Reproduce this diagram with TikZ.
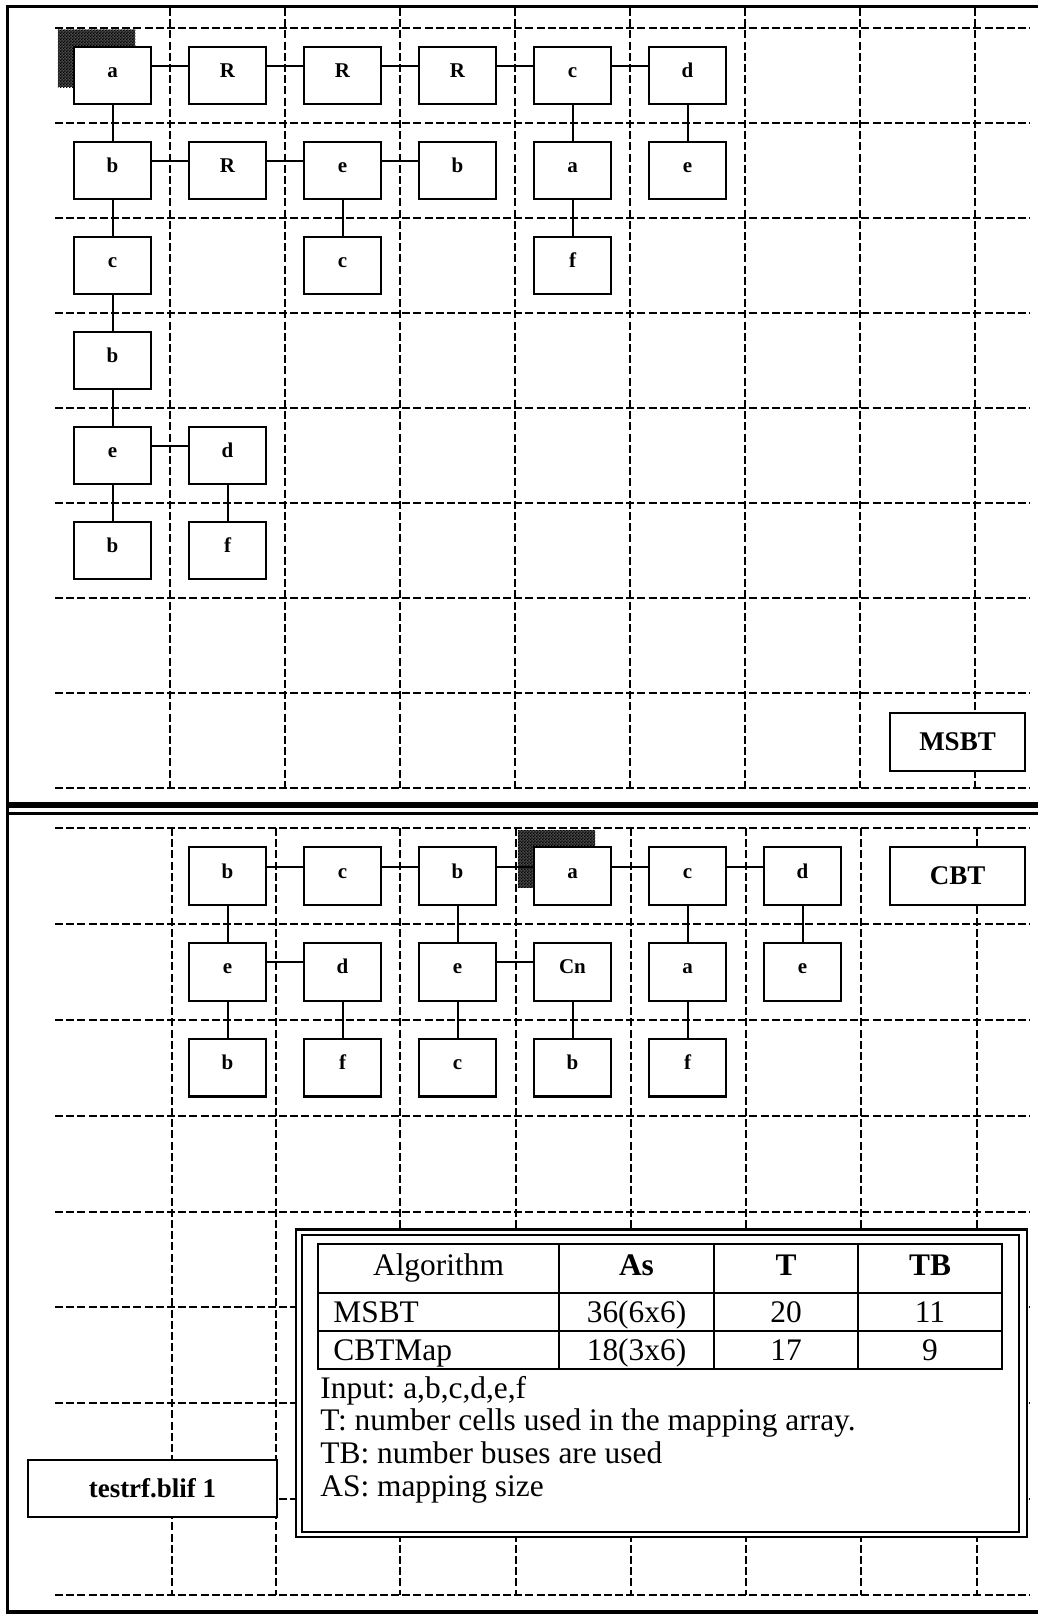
\documentclass[tikz,border=0pt]{standalone}
\usepackage{fontspec}
\setmainfont{Liberation Serif}
\usetikzlibrary{patterns}
\pgfdeclarepatternformonly{finecheck}{\pgfqpoint{0pt}{0pt}}{\pgfqpoint{1.6pt}{1.6pt}}{\pgfqpoint{1.6pt}{1.6pt}}{%
  \pgfpathrectangle{\pgfqpoint{0pt}{0pt}}{\pgfqpoint{0.8pt}{0.8pt}}%
  \pgfpathrectangle{\pgfqpoint{0.8pt}{0.8pt}}{\pgfqpoint{0.8pt}{0.8pt}}%
  \pgfusepath{fill}%
}
\newcommand\hconn[2]{\draw[conn] ([yshift=4.75pt]#1.east) -- ([yshift=4.75pt]#2.west);}
\newcommand\vconn[2]{\draw[conn] (#1.south) -- (#2.north);}
\frenchspacing
\begin{document}
\begin{tikzpicture}[x=0.5pt,y=-0.5pt,
  gridline/.style={line width=1.25pt, dash pattern=on 4pt off 1.6pt},
  cell/.style={draw, line width=1.15pt, fill=white, minimum width=38.75pt, minimum height=28.75pt,
    inner sep=0pt, outer sep=0pt, font=\fontsize{10.5}{12}\selectfont\bfseries, text height=2pt, text depth=0pt},
  conn/.style={line width=1pt},
  labelbox/.style={draw, line width=1.15pt, fill=white, inner sep=0pt, font=\fontsize{13.5}{15}\selectfont\bfseries},
  shadowfill/.style={fill=black!70, postaction={pattern=finecheck}},
  tabtext/.style={font=\fontsize{15.7}{18}\selectfont\frenchspacing, inner sep=0pt, anchor=base},
  tabline/.style={line width=1.15pt},
]
\useasboundingbox (0,0) rectangle (1038,1620);
\fill[white] (0,0) rectangle (1038,1620);

% ---------- top grid ----------
\foreach \x in {170,285,...,975} \draw[gridline] (\x,8) -- (\x,788);
\foreach \y in {28,123,...,788} \draw[gridline] (55,\y) -- (1030,\y);

% ---------- bottom grid ----------
\foreach \x in {172,276,400,516,631,746,861,977} \draw[gridline] (\x,828) -- (\x,1595);
\foreach \y in {828,924,1020,1116,1212,1307,1403,1499,1595} \draw[gridline] (55,\y) -- (1030,\y);

% ---------- borders ----------
\draw[line width=1.6pt] (1038,6.5) -- (7.5,6.5) -- (7.5,1612) -- (1038,1612);
\draw[line width=3pt] (7.5,805) -- (1038,805);
\draw[line width=1.25pt] (7.5,813.5) -- (1038,813.5);

% ---------- shadows ----------
\path[shadowfill] (57.75,29.75) rectangle (135.25,87.25);
\path[shadowfill] (517.75,830.25) rectangle (595.25,887.75);

% ---------- top section cells ----------
\node[cell] (t00) at (112.5,75.5) {a};
\node[cell] (t01) at (227.5,75.5) {R};
\node[cell] (t02) at (342.5,75.5) {R};
\node[cell] (t03) at (457.5,75.5) {R};
\node[cell] (t04) at (572.5,75.5) {c};
\node[cell] (t05) at (687.5,75.5) {d};
\node[cell] (t10) at (112.5,170.5) {b};
\node[cell] (t11) at (227.5,170.5) {R};
\node[cell] (t12) at (342.5,170.5) {e};
\node[cell] (t13) at (457.5,170.5) {b};
\node[cell] (t14) at (572.5,170.5) {a};
\node[cell] (t15) at (687.5,170.5) {e};
\node[cell] (t20) at (112.5,265.5) {c};
\node[cell] (t22) at (342.5,265.5) {c};
\node[cell] (t24) at (572.5,265.5) {f};
\node[cell] (t30) at (112.5,360.5) {b};
\node[cell] (t40) at (112.5,455.5) {e};
\node[cell] (t41) at (227.5,455.5) {d};
\node[cell] (t50) at (112.5,550.5) {b};
\node[cell] (t51) at (227.5,550.5) {f};

\hconn{t00}{t01} \hconn{t01}{t02} \hconn{t02}{t03} \hconn{t03}{t04} \hconn{t04}{t05}
\vconn{t00}{t10} \vconn{t04}{t14} \vconn{t05}{t15}
\hconn{t10}{t11} \hconn{t11}{t12} \hconn{t12}{t13}
\vconn{t10}{t20} \vconn{t12}{t22} \vconn{t14}{t24}
\vconn{t20}{t30} \vconn{t30}{t40} \vconn{t40}{t50}
\hconn{t40}{t41} \vconn{t41}{t51}

% ---------- bottom section cells ----------
\node[cell] (b01) at (227.5,876) {b};
\node[cell] (b02) at (342.5,876) {c};
\node[cell] (b03) at (457.5,876) {b};
\node[cell] (b04) at (572.5,876) {a};
\node[cell] (b05) at (687.5,876) {c};
\node[cell] (b06) at (802.5,876) {d};
\node[cell] (b11) at (227.5,971.9) {e};
\node[cell] (b12) at (342.5,971.9) {d};
\node[cell] (b13) at (457.5,971.9) {e};
\node[cell] (b14) at (572.5,971.9) {Cn};
\node[cell] (b15) at (687.5,971.9) {a};
\node[cell] (b16) at (802.5,971.9) {e};
\node[cell] (b21) at (227.5,1067.75) {b};
\node[cell] (b22) at (342.5,1067.75) {f};
\node[cell] (b23) at (457.5,1067.75) {c};
\node[cell] (b24) at (572.5,1067.75) {b};
\node[cell] (b25) at (687.5,1067.75) {f};

\hconn{b01}{b02} \hconn{b02}{b03} \hconn{b03}{b04} \hconn{b04}{b05} \hconn{b05}{b06}
\vconn{b01}{b11} \vconn{b03}{b13} \vconn{b05}{b15} \vconn{b06}{b16}
\hconn{b11}{b12} \hconn{b13}{b14}
\vconn{b11}{b21} \vconn{b12}{b22} \vconn{b13}{b23} \vconn{b14}{b24} \vconn{b15}{b25}

% ---------- labels ----------
\node[labelbox, minimum width=67.5pt, minimum height=29pt] (msbt) at (957.5,742) {MSBT};
\node[labelbox, minimum width=67.5pt, minimum height=29pt] (cbt) at (957.5,876) {CBT};
\node[labelbox, minimum width=124.5pt, minimum height=28.5pt] (testrf) at (152.5,1488.5) {testrf.blif 1};

% ---------- table ----------
\draw[tabline, fill=white] (296,1229.5) rectangle (1027,1537);
\draw[tabline] (302,1235) rectangle (1019,1532);
\draw[tabline] (318,1244) rectangle (1002,1369);
\draw[tabline] (318,1293) -- (1002,1293) (318,1331) -- (1002,1331);
\foreach \x in {559,714,858} \draw[tabline] (\x,1244) -- (\x,1369);

\node[tabtext] (h1) at (438.5,1275) {Algorithm};
\node[tabtext] (h2) at (636.5,1275) {\bfseries As};
\node[tabtext] (h3) at (786,1275) {\bfseries T};
\node[tabtext] (h4) at (930,1275) {\bfseries TB};
\node[tabtext, anchor=base west] (m1) at (333,1322) {MSBT};
\node[tabtext] (m2) at (636.5,1322) {36(6x6)};
\node[tabtext] (m3) at (786,1322) {20};
\node[tabtext] (m4) at (930,1322) {11};
\node[tabtext, anchor=base west] (c1) at (333,1360.5) {CBTMap};
\node[tabtext] (c2) at (636.5,1360.5) {18(3x6)};
\node[tabtext] (c3) at (786,1360.5) {17};
\node[tabtext] (c4) at (930,1360.5) {9};
\node[tabtext, anchor=base west] (n1) at (320,1398) {Input: a,b,c,d,e,f};
\node[tabtext, anchor=base west] (n2) at (320,1430.5) {T: number cells used in the mapping array.};
\node[tabtext, anchor=base west] (n3) at (320,1463) {TB: number buses are used};
\node[tabtext, anchor=base west] (n4) at (320,1496) {AS: mapping size};
\end{tikzpicture}
\end{document}
